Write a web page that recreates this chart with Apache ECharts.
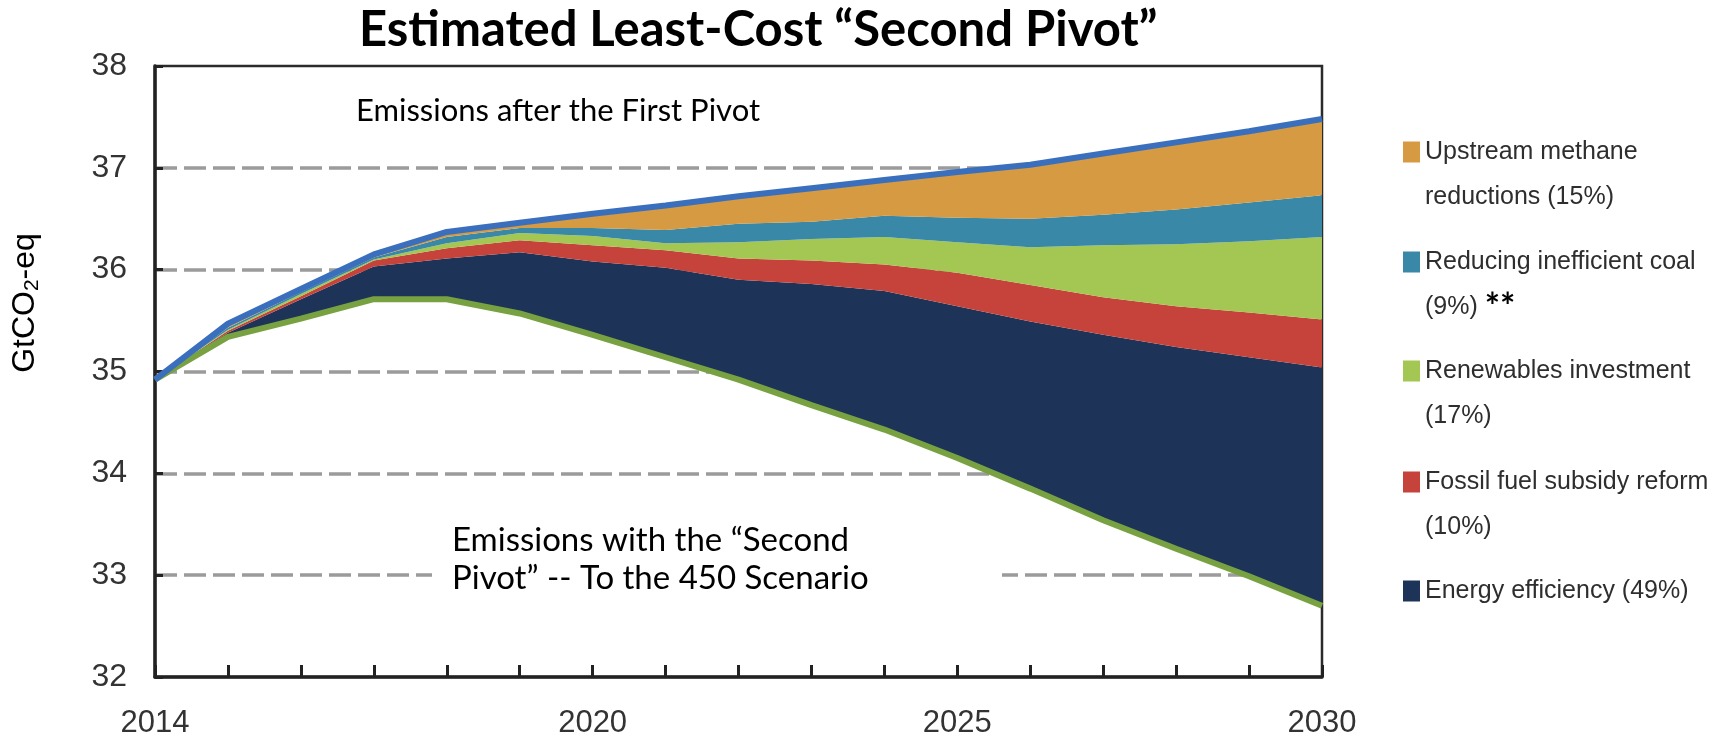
<!DOCTYPE html>
<html>
<head>
<meta charset="utf-8">
<title>Estimated Least-Cost Second Pivot</title>
<script src="https://cdn.jsdelivr.net/npm/echarts@6/dist/echarts.min.js"></script>
<style>
  html, body { margin: 0; padding: 0; background: #fff; }
  #myChart { width: 1736px; height: 741px; }
</style>
</head>
<body>
<div id="myChart"></div>
<script>
// values, GtCO2-eq
const years = ['2014', '2015', '2016', '2017', '2018', '2019', '2020', '2021', '2022',
  '2023', '2024', '2025', '2026', '2027', '2028', '2029', '2030'];
const xLabelYears = ['2014', '2020', '2025', '2030'];
const yMin = 32, yMax = 38, yStep = 1;

// emissions with the second pivot (450 scenario), bottom of the stack
const scenario450 = [34.92, 35.34, 35.52, 35.71, 35.71, 35.57, 35.36, 35.14, 34.92,
  34.67, 34.43, 34.15, 33.85, 33.54, 33.26, 32.99, 32.70];
// savings per measure, stacked on top of it
const energyEfficiency = [0, 0.04, 0.19, 0.32, 0.40, 0.60, 0.72, 0.88, 0.98,
  1.19, 1.36, 1.49, 1.64, 1.82, 1.98, 2.15, 2.34];
const subsidyReform = [0, 0.02, 0.03, 0.06, 0.10, 0.12, 0.16, 0.17, 0.21,
  0.23, 0.26, 0.33, 0.36, 0.37, 0.40, 0.44, 0.47];
const renewables = [0, 0.01, 0.02, 0.01, 0.05, 0.07, 0.09, 0.07, 0.16,
  0.21, 0.27, 0.30, 0.37, 0.51, 0.61, 0.70, 0.81];
const inefficientCoal = [0, 0.02, 0.02, 0.02, 0.06, 0.05, 0.08, 0.13, 0.18,
  0.17, 0.21, 0.24, 0.28, 0.30, 0.34, 0.38, 0.41];
const upstreamMethane = [0, 0.04, 0.03, 0.03, 0.05, 0.05, 0.14, 0.24, 0.27,
  0.33, 0.35, 0.45, 0.53, 0.60, 0.66, 0.70, 0.75];

const names = ['Upstream methane reductions (15%)', 'Reducing inefficient coal (9%)',
  'Renewables investment (17%)', 'Fossil fuel subsidy reform (10%)', 'Energy efficiency (49%)'];
const legendText = ['Upstream methane\nreductions (15%)', 'Reducing inefficient coal\n(9%) {b|**}',
  'Renewables investment\n(17%)', 'Fossil fuel subsidy reform\n(10%)', 'Energy efficiency (49%)'];
const colors = ['#d69a42', '#3988a8', '#a3c752', '#c6433b', '#1d3358'];

const arial = "'Liberation Sans', Arial, sans-serif";
const calibri = "Lato, 'Open Sans', sans-serif";

let myChart = echarts.init(document.getElementById('myChart'));

// one legend per item so the icon sits on the first text line
const legendCenters = [152, 262, 371, 482, 591];
let legends = names.map((n, i) => {
  const twoLines = legendText[i].indexOf('\n') >= 0;
  return {
    left: 1403,
    top: legendCenters[i] - (twoLines ? 67.5 : 22.5),
    padding: 0,
    selectedMode: false,
    icon: 'rect',
    itemWidth: 17,
    itemHeight: 21,
    data: [{ name: n, itemStyle: { color: colors[i], borderWidth: 0 } }],
    formatter: () => legendText[i],
    textStyle: {
      fontFamily: arial,
      fontSize: 25,
      color: '#2e2e2e',
      lineHeight: 45,
      padding: twoLines ? [45, 0, 0, 0] : 0,
      rich: { b: { fontFamily: calibri, fontWeight: 'bold', fontSize: 36, color: '#000', lineHeight: 45 } }
    }
  };
});

function area(name, data, color) {
  return {
    name: name,
    type: 'line',
    stack: 'total',
    data: data,
    symbol: 'none',
    lineStyle: { width: 0 },
    itemStyle: { color: color },
    areaStyle: { color: color, opacity: 1 },
    z: 2
  };
}

let option = {
  animation: false,
  title: {
    text: 'Estimated Least-Cost \u201cSecond Pivot\u201d',
    left: 354,
    top: 1,
    textStyle: { fontFamily: calibri, fontWeight: 'bold', fontSize: 49, color: '#000' }
  },
  legend: legends,
  grid: {
    left: 155, top: 66, width: 1167, height: 611,
    show: true, borderColor: '#2b2b2b', borderWidth: 2.5,
    outerBoundsMode: 'none'
  },
  xAxis: {
    type: 'category',
    boundaryGap: false,
    data: years,
    axisLine: { lineStyle: { color: '#222', width: 3.5 } },
    axisTick: { inside: true, length: 12, interval: 0, lineStyle: { color: '#222', width: 3 } },
    axisLabel: {
      interval: (idx, v) => xLabelYears.indexOf(v) >= 0,
      fontFamily: arial, fontSize: 31, color: '#333', margin: 31
    },
    splitLine: { show: false }
  },
  yAxis: {
    type: 'value',
    min: yMin, max: yMax, interval: yStep,
    axisLine: { show: true, lineStyle: { color: '#222', width: 3.5 } },
    axisTick: { show: true, inside: true, length: 8, lineStyle: { color: '#222', width: 3 } },
    axisLabel: { fontFamily: arial, fontSize: 32, color: '#333', margin: 28 },
    splitLine: {
      show: true, showMinLine: false, showMaxLine: false,
      lineStyle: { color: '#9b9b9b', width: 3.5, type: [22, 7] }
    }
  },
  graphic: [
    { type: 'rect', z: 1, shape: { x: 432, y: 522, width: 570, height: 76 }, style: { fill: '#fff' } },
    {
      type: 'text', z: 5, x: 356, y: 111,
      style: { text: 'Emissions after the First Pivot', fontFamily: calibri, fontSize: 31, fill: '#000',
        textAlign: 'left', textVerticalAlign: 'middle' }
    },
    {
      type: 'text', z: 5, x: 452, y: 559,
      style: { text: 'Emissions with the \u201cSecond\nPivot\u201d -- To the 450 Scenario', fontFamily: calibri,
        fontSize: 33, lineHeight: 38, fill: '#000', textAlign: 'left', textVerticalAlign: 'middle' }
    },
    {
      type: 'text', z: 5, x: 25, y: 303, rotation: Math.PI / 2,
      style: {
        text: '{a|GtCO}{s|2}{a|-eq}',
        textAlign: 'center', textVerticalAlign: 'middle',
        rich: {
          a: { fontFamily: arial, fontSize: 32, color: '#444', lineHeight: 36 },
          s: { fontFamily: arial, fontSize: 21, color: '#444', lineHeight: 24, verticalAlign: 'bottom' }
        }
      }
    }
  ],
  series: [
    {
      name: '450 Scenario',
      type: 'line',
      stack: 'total',
      data: scenario450,
      symbol: 'none',
      lineStyle: { color: '#78a142', width: 6 },
      itemStyle: { color: '#78a142' },
      z: 4
    },
    area(names[4], energyEfficiency, colors[4]),
    area(names[3], subsidyReform, colors[3]),
    area(names[2], renewables, colors[2]),
    area(names[1], inefficientCoal, colors[1]),
    Object.assign(area(names[0], upstreamMethane, colors[0]), {
      lineStyle: { color: '#3a6fbe', width: 6 },
      z: 5
    })
  ]
};

myChart.setOption(option);

window.addEventListener('resize', () => {
  myChart.resize();
});
</script>
</body>
</html>
